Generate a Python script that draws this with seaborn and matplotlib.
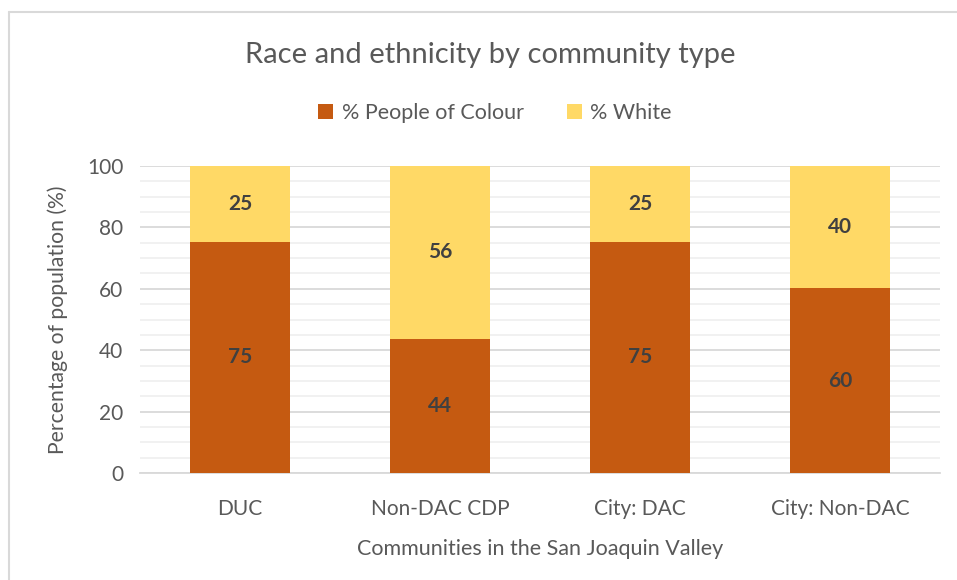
import numpy as np
import pandas as pd
import matplotlib.pyplot as plt
from matplotlib.lines import Line2D
from matplotlib.ticker import MultipleLocator
import seaborn as sns

communities = ["DUC", "Non-DAC CDP", "City: DAC", "City: Non-DAC"]
people_of_colour = [75.4, 43.7, 75.3, 60.1]
white = [24.6, 56.3, 24.7, 39.9]

POC_COLOR = "#C55A11"
WHITE_COLOR = "#FFD966"
TEXT_GRAY = "#595959"
LABEL_DARK = "#404040"

sns.set_theme(style="white")
plt.rcParams["font.family"] = ["Lato", "DejaVu Sans"]

df = pd.DataFrame({
    "community": communities,
    "poc": people_of_colour,
    "white": white,
})
df["total"] = df["poc"] + df["white"]

fig = plt.figure(figsize=(9.57, 5.8), dpi=100)
fig.patch.set_facecolor("white")
ax = fig.add_axes([140 / 957, 107 / 580, 800 / 957, 307 / 580])

sns.barplot(data=df, x="community", y="total", color=WHITE_COLOR,
            width=0.5, saturation=1, ax=ax, zorder=3, linewidth=0,
            label="% White")
sns.barplot(data=df, x="community", y="poc", color=POC_COLOR,
            width=0.5, saturation=1, ax=ax, zorder=3, linewidth=0,
            label="% People of Colour")
if ax.get_legend() is not None:
    ax.get_legend().remove()

for i, row in df.iterrows():
    ax.text(i, row["poc"] / 2, f"{row['poc']:.0f}", ha="center", va="center",
            fontsize=15, fontweight="bold", color=LABEL_DARK, zorder=4)
    ax.text(i, row["poc"] + row["white"] / 2, f"{row['white']:.0f}",
            ha="center", va="center", fontsize=15, fontweight="bold",
            color=LABEL_DARK, zorder=4)

ax.set_xlim(-0.5, len(communities) - 0.5)
ax.set_ylim(0, 100)
ax.yaxis.set_major_locator(MultipleLocator(20))
ax.yaxis.set_minor_locator(MultipleLocator(5))
ax.grid(axis="y", which="major", color="#D9D9D9", linewidth=1.3, zorder=0)
ax.grid(axis="y", which="minor", color="#EDEDED", linewidth=1.1, zorder=0)
ax.set_axisbelow(True)
for side in ["top", "right", "left"]:
    ax.spines[side].set_visible(False)
ax.spines["bottom"].set_color("#D9D9D9")
ax.spines["bottom"].set_linewidth(1.3)
ax.tick_params(axis="both", which="both", length=0, labelsize=15,
               colors=TEXT_GRAY)
ax.tick_params(axis="x", pad=19)
ax.tick_params(axis="y", pad=12)

ax.set_xlabel("Communities in the San Joaquin Valley", fontsize=15.5,
              color=TEXT_GRAY, labelpad=14)
ax.set_ylabel("Percentage of population (%)", fontsize=15.2,
              color=TEXT_GRAY, labelpad=14)

fig.text(490 / 957, 1 - 55 / 580, "Race and ethnicity by community type",
         ha="center", va="center", fontsize=21, color=TEXT_GRAY)

handles, labels = ax.get_legend_handles_labels()
order = [labels.index("% People of Colour"), labels.index("% White")]
leg = fig.legend([handles[k] for k in order], [labels[k] for k in order],
                 loc="center", bbox_to_anchor=(495 / 957, 1 - 113 / 580),
                 ncol=2, frameon=False, fontsize=15.5, handlelength=0.7,
                 handleheight=0.7, handletextpad=0.4, columnspacing=2.0)
for t in leg.get_texts():
    t.set_color(TEXT_GRAY)

# outer chart frame, partly cropped
fig.add_artist(Line2D([9 / 957, 1.0], [1 - 12 / 580, 1 - 12 / 580],
                      transform=fig.transFigure, color="#D9D9D9", linewidth=1.5))
fig.add_artist(Line2D([9 / 957, 9 / 957], [0.0, 1 - 12 / 580],
                      transform=fig.transFigure, color="#D9D9D9", linewidth=1.5))

fig.savefig("out.png", dpi=100)
plt.close(fig)
